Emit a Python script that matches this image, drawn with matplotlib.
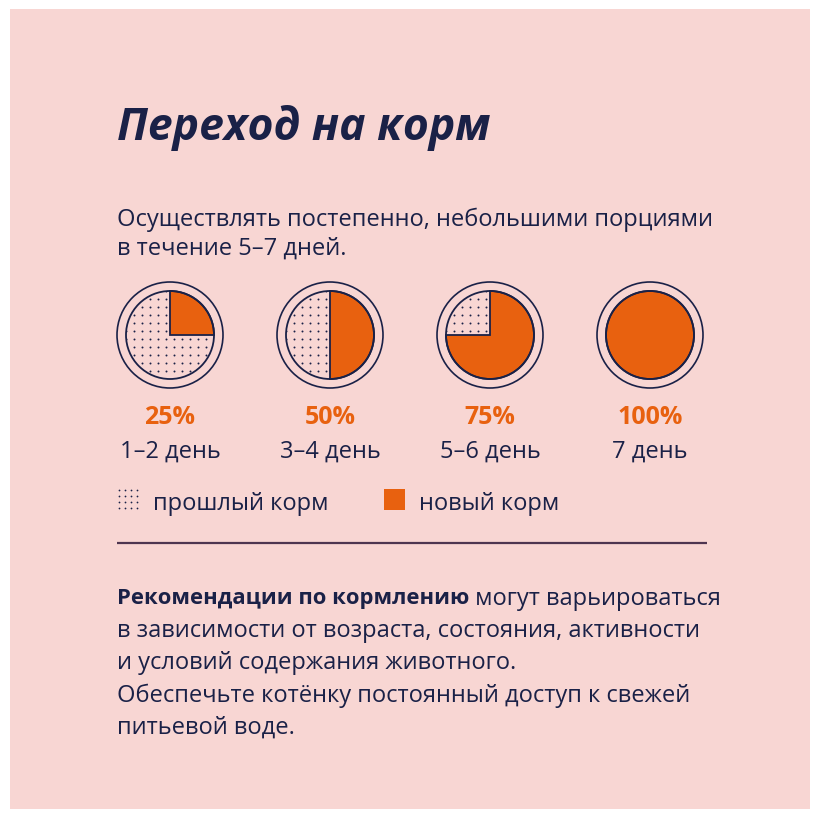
import numpy as np
import matplotlib
matplotlib.use("Agg")
import matplotlib.pyplot as plt
from matplotlib.patches import Rectangle, Wedge, Circle

# ---- data ----
title = "Переход на корм"
intro_lines = ["Осуществлять постепенно, небольшими порциями", "в течение 5–7 дней."]
shares = [25, 50, 75, 100]
share_labels = ["25%", "50%", "75%", "100%"]
day_labels = ["1–2 день", "3–4 день", "5–6 день", "7 день"]
legend_labels = ["прошлый корм", "новый корм"]
rec_bold = "Рекомендации по кормлению"
rec_rest = " могут варьироваться"
rec_lines = ["в зависимости от возраста, состояния, активности",
             "и условий содержания животного.",
             "Обеспечьте котёнку постоянный доступ к свежей",
             "питьевой воде."]

BG = "#F8D6D3"
NAVY = "#1A2147"
ORANGE = "#E8610F"
FONT = "Open Sans"
FS = 17

W = 820
fig = plt.figure(figsize=(8.2, 8.2), dpi=100)
fig.patch.set_facecolor("white")
ax = fig.add_axes([0, 0, 1, 1])
ax.set_xlim(0, W)
ax.set_ylim(0, W)
ax.axis("off")

def Y(py):
    return W - py - 3

ax.add_patch(Rectangle((10, 10), 800, 800, facecolor=BG, edgecolor="none", zorder=0))

ax.text(117, Y(125), title, fontsize=32, fontweight="bold", fontstyle="italic",
        family=FONT, color=NAVY, va="center", ha="left")

for i, line in enumerate(intro_lines):
    ax.text(117, Y(217 + 29 * i), line, fontsize=FS, family=FONT, color=NAVY,
            va="center", ha="left")

# dot texture grid
gx, gy = np.meshgrid(np.arange(0, W, 8.0), np.arange(0, W, 8.0))

R_OUT, R_IN = 53, 44
for i, s in enumerate(shares):
    cx, cy = 170 + 160 * i, W - 336
    ax.add_patch(Circle((cx, cy), R_OUT, facecolor="none", edgecolor=NAVY, lw=1.2, zorder=2))
    if s < 100:
        old = Wedge((cx, cy), R_IN, 90, 90 + 360 * (100 - s) / 100, facecolor="none",
                    edgecolor="none", zorder=2)
        ax.add_patch(old)
        px = gx + (cx % 8) + 4
        py = gy + (cy % 8) + 4
        sc = ax.scatter(px.ravel(), py.ravel(), s=2.0, color=NAVY, lw=0, zorder=3)
        sc.set_clip_path(old)
    new = Wedge((cx, cy), R_IN, 90 - 360 * s / 100, 90, facecolor=ORANGE,
                edgecolor=NAVY, lw=1.3, zorder=4)
    ax.add_patch(new)
    ax.add_patch(Circle((cx, cy), R_IN, facecolor="none", edgecolor=NAVY, lw=1.3, zorder=5))
    ax.text(cx, Y(415), share_labels[i], fontsize=18, fontweight="bold", family=FONT,
            color=ORANGE, ha="center", va="center")
    ax.text(cx, Y(449), day_labels[i], fontsize=FS, family=FONT, color=NAVY,
            ha="center", va="center")

# legend
lx, ly = np.meshgrid(np.arange(4), np.arange(4))
ax.scatter(119 + lx.ravel() * 6, W - 491 - ly.ravel() * 6, s=1.6, color=NAVY, lw=0, zorder=3)
ax.text(153, Y(501), legend_labels[0], fontsize=FS, family=FONT, color=NAVY,
        va="center", ha="left")
ax.add_patch(Rectangle((384, W - 511), 21, 21, facecolor=ORANGE, edgecolor="none"))
ax.text(419, Y(501), legend_labels[1], fontsize=FS, family=FONT, color=NAVY,
        va="center", ha="left")

ax.plot([117, 707], [W - 544, W - 544], color="#4E3550", lw=1.6, solid_capstyle="butt")

# recommendations
t = ax.text(117, Y(596), rec_bold, fontsize=15.8, fontweight="bold", family=FONT,
            color=NAVY, va="center", ha="left")
fig.canvas.draw()
bb = t.get_window_extent(renderer=fig.canvas.get_renderer())
ax.text(bb.x1, Y(596), rec_rest, fontsize=FS, family=FONT, color=NAVY,
        va="center", ha="left")
for i, line in enumerate(rec_lines):
    ax.text(117, Y(628 + 32.3 * i), line, fontsize=FS, family=FONT, color=NAVY,
            va="center", ha="left")

fig.savefig("out.png", dpi=100, facecolor="white")
